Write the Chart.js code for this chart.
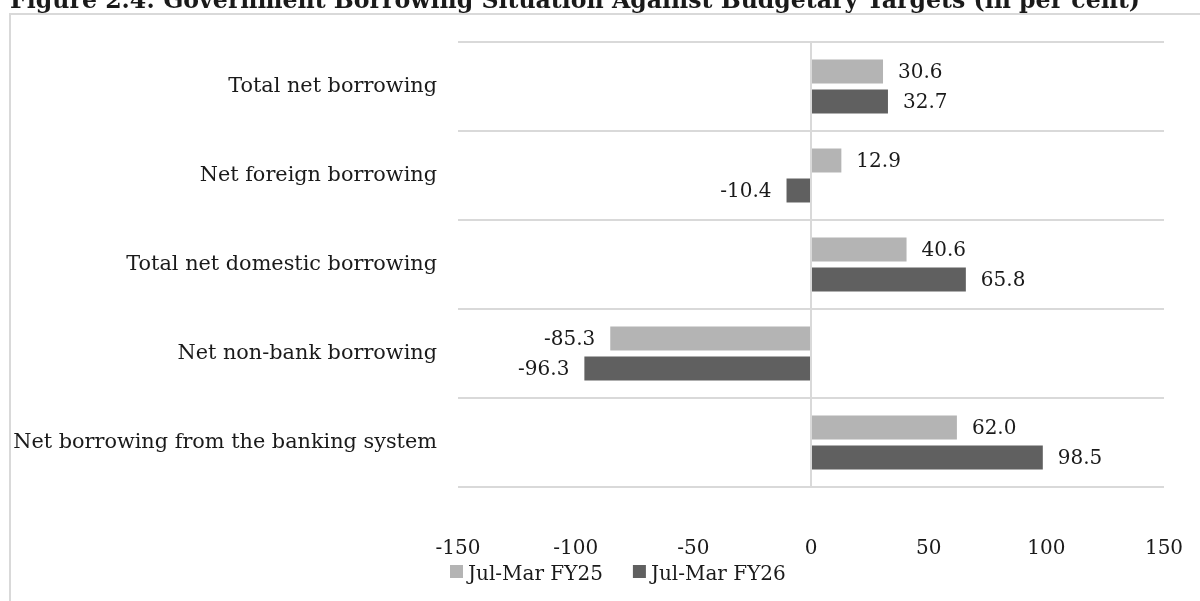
<!DOCTYPE html>
<html>
<head>
<meta charset="utf-8">
<script src="https://cdn.jsdelivr.net/npm/chart.js@4/dist/chart.umd.min.js"></script>
<style>
  html, body { margin: 0; padding: 0; background: #ffffff; }
  #wrap { position: relative; width: 1200px; height: 601px; }
</style>
</head>
<body>
<div id="wrap"><canvas id="chart" width="1200" height="601"></canvas></div>
<script>
// Borrowing outturn as a share of the budget target, by source
const categories = [
  'Total net borrowing',
  'Net foreign borrowing',
  'Total net domestic borrowing',
  'Net non-bank borrowing',
  'Net borrowing from the banking system'
];
const seriesNames = ['Jul-Mar FY25', 'Jul-Mar FY26'];
const fy25 = [30.6, 12.9, 40.6, -85.3, 62.0];
const fy26 = [32.7, -10.4, 65.8, -96.3, 98.5];
const xTicks = [-150, -100, -50, 0, 50, 100, 150];

const titleText = 'Figure 2.4: Government Borrowing Situation Against Budgetary Targets (in per cent)';
const FONT = '"DejaVu Serif", "Liberation Serif", serif';
const TEXT_COLOR = '#1a1a1a';
const GRID_COLOR = '#d9d9d9';
const colors = ['#b4b4b4', '#606060'];

// Title (bold) plus the light frame around the chart
const framePlugin = {
  id: 'frame',
  beforeDraw(chart) {
    const ctx = chart.ctx;
    ctx.save();
    ctx.strokeStyle = GRID_COLOR;
    ctx.lineWidth = 2;
    ctx.beginPath();
    ctx.moveTo(10, 601);
    ctx.lineTo(10, 14);
    ctx.lineTo(1200, 14);
    ctx.stroke();
    ctx.fillStyle = TEXT_COLOR;
    ctx.font = 'bold 24px ' + FONT;
    ctx.textBaseline = 'alphabetic';
    ctx.textAlign = 'left';
    ctx.fillText(titleText, 10, 8, 1130);
    ctx.restore();
  }
};

// Value labels just beyond the end of each bar
const valueLabels = {
  id: 'valueLabels',
  afterDatasetsDraw(chart) {
    const ctx = chart.ctx;
    ctx.save();
    ctx.font = '20px ' + FONT;
    ctx.fillStyle = TEXT_COLOR;
    ctx.textBaseline = 'middle';
    chart.data.datasets.forEach((ds, i) => {
      chart.getDatasetMeta(i).data.forEach((bar, j) => {
        const v = ds.data[j];
        const txt = v.toFixed(1);
        if (v >= 0) {
          ctx.textAlign = 'left';
          ctx.fillText(txt, bar.x + 15, bar.y + 1);
        } else {
          ctx.textAlign = 'right';
          ctx.fillText(txt, bar.x - 15, bar.y + 1);
        }
      });
    });
    ctx.restore();
  }
};

// Legend row under the axis
const legendRow = {
  id: 'legendRow',
  afterDraw(chart) {
    const ctx = chart.ctx;
    ctx.save();
    ctx.font = '20px ' + FONT;
    ctx.textBaseline = 'alphabetic';
    ctx.textAlign = 'left';
    let x = 450;
    chart.data.datasets.forEach((ds) => {
      ctx.fillStyle = ds.backgroundColor;
      ctx.fillRect(x, 565, 13, 13);
      ctx.fillStyle = TEXT_COLOR;
      const tx = x + 18;
      ctx.fillText(ds.label, tx, 580);
      x = tx + ctx.measureText(ds.label).width + 30;
    });
    ctx.restore();
  }
};

new Chart(document.getElementById('chart'), {
  type: 'bar',
  data: {
    labels: categories,
    datasets: [
      { label: seriesNames[0], data: fy25, backgroundColor: colors[0] },
      { label: seriesNames[1], data: fy26, backgroundColor: colors[1] }
    ]
  },
  options: {
    indexAxis: 'y',
    responsive: false,
    animation: false,
    events: [],
    categoryPercentage: 0.674,
    barPercentage: 0.8,
    layout: { padding: { top: 42, right: 36, bottom: 0, left: 0 } },
    plugins: {
      legend: { display: false },
      tooltip: { enabled: false },
      title: { display: false }
    },
    scales: {
      x: {
        type: 'linear',
        min: xTicks[0],
        max: xTicks[xTicks.length - 1],
        afterBuildTicks(scale) { scale.ticks = xTicks.map(v => ({ value: v })); },
        afterFit(scale) {
          scale.height = 114;
          scale.paddingLeft = 0;
          scale.paddingRight = 0;
        },
        border: { display: false },
        grid: {
          drawTicks: false,
          lineWidth: 2,
          color: (c) => (c.tick && c.tick.value === 0 ? GRID_COLOR : 'rgba(0,0,0,0)')
        },
        ticks: {
          padding: 50,
          color: TEXT_COLOR,
          font: { family: FONT, size: 20 },
          callback: (v) => String(v)
        }
      },
      y: {
        afterFit(scale) { scale.width = 458; },
        border: { display: false },
        grid: { drawTicks: false, lineWidth: 2, color: GRID_COLOR, offset: true },
        ticks: {
          padding: 21,
          color: TEXT_COLOR,
          font: { family: FONT, size: 20.8 }
        }
      }
    }
  },
  plugins: [framePlugin, valueLabels, legendRow]
});
</script>
</body>
</html>
